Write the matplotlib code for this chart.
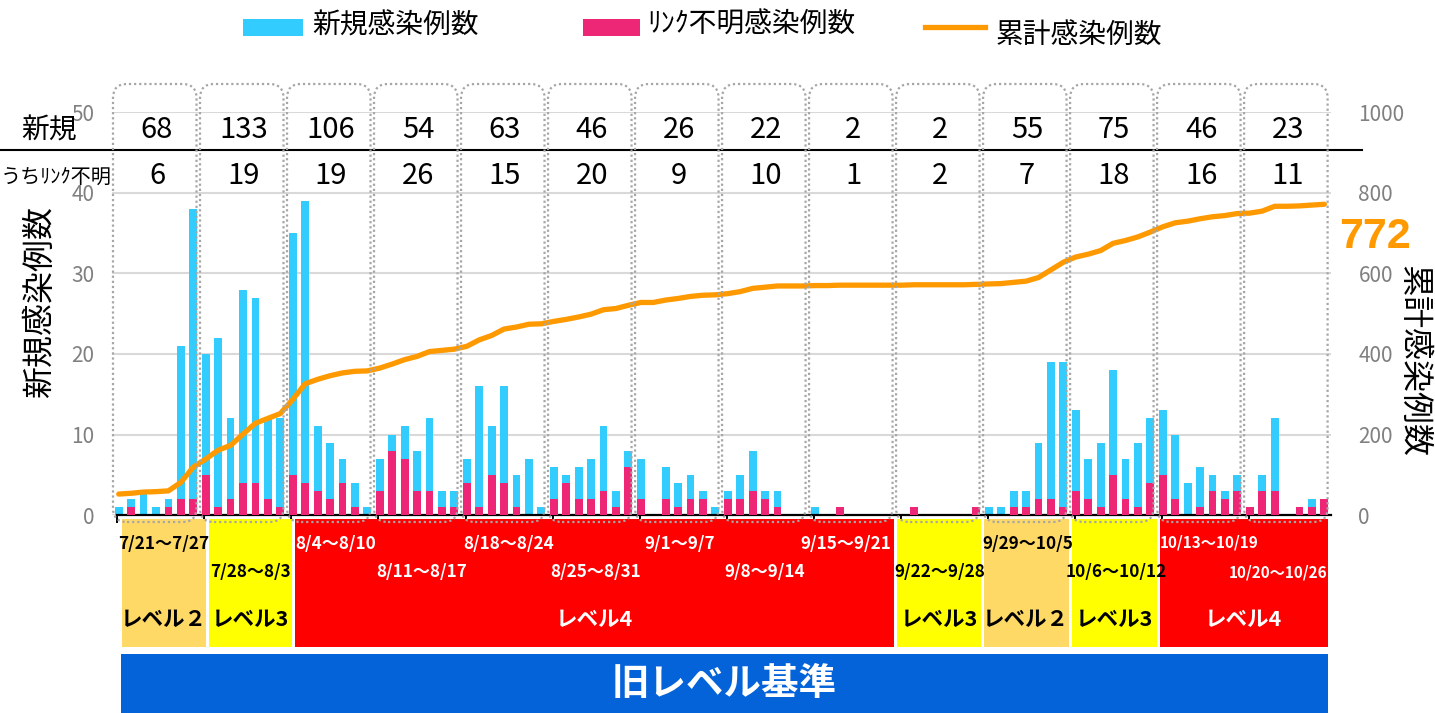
import numpy as np
import matplotlib
matplotlib.use('Agg')
import matplotlib.pyplot as plt
from matplotlib.patches import Rectangle, FancyBboxPatch
from matplotlib.transforms import IdentityTransform
from matplotlib.lines import Line2D

plt.rcParams['font.family'] = ['Noto Sans CJK JP', 'DejaVu Sans']

# ---------------- data ----------------
new_cases = [1, 2, 3, 1, 2, 21, 38,
             20, 22, 12, 28, 27, 12, 12,
             35, 39, 11, 9, 7, 4, 1,
             7, 10, 11, 8, 12, 3, 3,
             7, 16, 11, 16, 5, 7, 1,
             6, 5, 6, 7, 11, 3, 8,
             7, 0, 6, 4, 5, 3, 1,
             3, 5, 8, 3, 3, 0, 0,
             1, 0, 1, 0, 0, 0, 0,
             0, 1, 0, 0, 0, 0, 1,
             1, 1, 3, 3, 9, 19, 19,
             13, 7, 9, 18, 7, 9, 12,
             13, 10, 4, 6, 5, 3, 5,
             1, 5, 12, 0, 1, 2, 2]
link_unknown = [0, 1, 0, 0, 1, 2, 2,
                5, 1, 2, 4, 4, 2, 1,
                5, 4, 3, 2, 4, 1, 0,
                3, 8, 7, 3, 3, 1, 1,
                4, 1, 5, 4, 1, 0, 0,
                2, 4, 2, 2, 3, 1, 6,
                2, 0, 2, 1, 2, 2, 0,
                2, 2, 3, 2, 1, 0, 0,
                0, 0, 1, 0, 0, 0, 0,
                0, 1, 0, 0, 0, 0, 1,
                0, 0, 1, 1, 2, 2, 1,
                3, 2, 1, 5, 2, 1, 4,
                5, 2, 0, 1, 3, 2, 3,
                1, 3, 3, 0, 1, 1, 2]
cumulative_start = 51
cumulative = cumulative_start + np.cumsum(new_cases)

week_labels = ['7/21～7/27', '7/28～8/3', '8/4～8/10', '8/11～8/17', '8/18～8/24',
               '8/25～8/31', '9/1～9/7', '9/8～9/14', '9/15～9/21', '9/22～9/28',
               '9/29～10/5', '10/6～10/12', '10/13～10/19', '10/20～10/26']
weekly_new = [68, 133, 106, 54, 63, 46, 26, 22, 2, 2, 55, 75, 46, 23]
weekly_link = [6, 19, 19, 26, 15, 20, 9, 10, 1, 2, 7, 18, 16, 11]

level_names = ['レベル２', 'レベル3', 'レベル4', 'レベル3', 'レベル２', 'レベル3', 'レベル4']
level_weeks = [(0, 1), (1, 2), (2, 9), (9, 10), (10, 11), (11, 12), (12, 14)]
level_colors = ['#FFD966', '#FFFF00', '#FF0000', '#FFFF00', '#FFD966', '#FFFF00', '#FF0000']

# ---------------- figure ----------------
W, H = 1435, 713
fig = plt.figure(figsize=(W / 100, H / 100), dpi=100)
ID = IdentityTransform()


def py(y):
    return H - y


ax_left, ax_right, ax_top, ax_bot = 112.5, 1330.6, 112.5, 515
ax = fig.add_axes([ax_left / W, (H - ax_bot) / H, (ax_right - ax_left) / W, (ax_bot - ax_top) / H])

days = np.arange(len(new_cases))
ax.bar(days, new_cases, width=0.63, color='#33CCFF', zorder=2)
ax.bar(days, link_unknown, width=0.63, color='#EE2676', zorder=3)
ax.set_xlim(-0.5, len(new_cases) - 0.5)
ax.set_ylim(0, 50)
ax.set_yticks(range(0, 51, 10))
ax.yaxis.grid(True, color='#D9D9D9', linewidth=1.5)
ax.set_axisbelow(True)
for s in ['top', 'left', 'right']:
    ax.spines[s].set_visible(False)
ax.spines['bottom'].set_linewidth(1.6)
ax.spines['bottom'].set_bounds(-0.1, len(new_cases) - 0.5)
ax.set_xticks([7 * k - 0.1 for k in range(14)])
ax.set_xticklabels([])
ax.tick_params(axis='x', length=6, width=1.4, color='black')
ax.tick_params(axis='y', length=0, pad=13, labelsize=15, labelcolor='#808080')

ax2 = ax.twinx()
ax2.plot(days, cumulative, color='#FF9900', lw=3.8, solid_capstyle='round', zorder=4)
ax2.set_ylim(0, 1000)
ax2.set_yticks(range(0, 1001, 200))
for s in ax2.spines.values():
    s.set_visible(False)
ax2.tick_params(axis='y', length=0, pad=20, labelsize=15, labelcolor='#808080')

# axis titles
fig.text(40 / W, 1 - 302 / H, '新規感染例数', rotation=90, fontsize=23, ha='center', va='center')
fig.text(1413 / W, 1 - 361 / H, '累計感染例数', rotation=270, fontsize=23, ha='center', va='center')

# ---------------- table ----------------
def dx(d):
    return ax.transData.transform((d, 0))[0]


fig.text(49, py(131), '新規', transform=ID, fontsize=20, ha='center', va='center')
fig.text(1, py(177), 'うちﾘﾝｸ不明', transform=ID, fontsize=14.5, ha='left', va='center')
fig.add_artist(Line2D([0, 1362], [py(150), py(150)], transform=ID, color='black', lw=1.5, zorder=5))
for k in range(14):
    xc = dx(7 * k + 3)
    fig.text(xc + 1, py(130), str(weekly_new[k]), transform=ID, fontsize=21, ha='center', va='center', zorder=7)
    fig.text(xc + 1, py(176), str(weekly_link[k]), transform=ID, fontsize=21, ha='center', va='center', zorder=7)
    x0 = dx(7 * k - 0.5) + 0.5
    x1 = dx(7 * k + 6.5) - 3.0
    box = FancyBboxPatch((x0, py(522)), x1 - x0, 522 - 84,
                         boxstyle='round,pad=0,rounding_size=14', transform=ID,
                         fill=False, ec='#A6A6A6', lw=1.6, ls=(0, (1, 1.3)), zorder=6)
    fig.add_artist(box)

fig.text(1375, py(237), str(int(cumulative[-1])), transform=ID, fontsize=31, fontweight='bold',
         color='#FF9900', ha='center', va='center', family=['Liberation Sans', 'DejaVu Sans'])

# ---------------- level bands ----------------
band_edges = [121.7, 207.5, 293.5, 379.5, 465.5, 551.5, 637.5, 723.5, 809.5,
              895.5, 982.5, 1070.0, 1158.0, 1243.0, 1327.7]

for name, (w0, w1), col in zip(level_names, level_weeks, level_colors):
    x0 = band_edges[w0] + (0 if w0 == 0 else 1.5)
    x1 = band_edges[w1] - (0 if w1 == 14 else 1.5)
    fig.add_artist(Rectangle((x0, py(647)), x1 - x0, 647 - 519, transform=ID,
                             facecolor=col, edgecolor='none', zorder=1))
    tc = 'white' if col == '#FF0000' else 'black'
    fig.text((x0 + x1) / 2, py(619), name, transform=ID, fontsize=15.5, fontweight='bold',
             color=tc, ha='center', va='center', zorder=3)

label_x = [164, 250, 336, 422, 509, 596, 680, 765, 846, 940, 1028, 1116, 1209, 1278]
for k, lab in enumerate(week_labels):
    lev = [i for i, (w0, w1) in enumerate(level_weeks) if w0 <= k < w1][0]
    tc = 'white' if level_colors[lev] == '#FF0000' else 'black'
    yc = 544 if k % 2 == 0 else 572
    fs = 12.3
    if k >= 12:
        fs = 11
        yc = 542 if k == 12 else 573
    fig.text(label_x[k], py(yc), lab, transform=ID, fontsize=fs, fontweight='bold', color=tc,
             ha='center', va='center', zorder=3)

fig.add_artist(Rectangle((121, 0), 1327.7 - 121, py(654), transform=ID,
                         facecolor='#0563D9', edgecolor='none', zorder=1))
fig.text((121 + 1327.7) / 2, py(684), '旧レベル基準', transform=ID, fontsize=27,
         fontweight='bold', color='white', ha='center', va='center', zorder=3)

# ---------------- legend ----------------
fig.add_artist(Rectangle((243, py(36)), 60, 17, transform=ID, facecolor='#33CCFF', edgecolor='none'))
fig.text(312, py(26), '新規感染例数', transform=ID, fontsize=20, ha='left', va='center')
fig.add_artist(Rectangle((583, py(36)), 57, 17, transform=ID, facecolor='#EE2676', edgecolor='none'))
fig.text(647, py(25), 'ﾘﾝｸ不明感染例数', transform=ID, fontsize=20, ha='left', va='center')
fig.add_artist(Line2D([925, 985], [py(27), py(27)], transform=ID, color='#FF9900', lw=3.8))
fig.text(996, py(35), '累計感染例数', transform=ID, fontsize=20, ha='left', va='center')

fig.savefig('out.png', dpi=100)
